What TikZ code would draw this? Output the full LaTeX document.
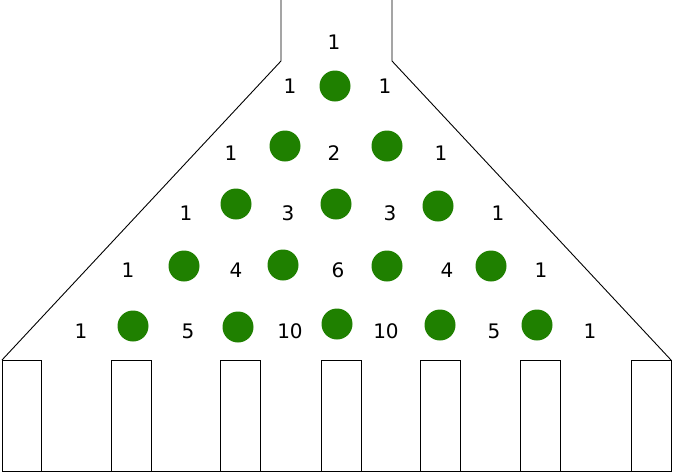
\documentclass[tikz,border=0pt]{standalone}
\usepackage{fontspec}
\setmainfont{DejaVu Sans}
\definecolor{ballgreen}{RGB}{31,128,0}

\begin{document}
\begin{tikzpicture}[x=1pt, y=-1pt,
  ball/.style = {shape = circle, fill = ballgreen, minimum size = 31pt, inner sep = 0pt},
  count/.style = {inner sep = 0pt, font = \fontsize{20}{24}\selectfont},
  wall/.style = {draw = black, line width = 0.9pt}]

\useasboundingbox (0, 0) rectangle (673, 472);

% funnel
\path [wall] (281, 0) -- (281, 61) -- (2, 360);
\path [wall] (392, 0) -- (392, 61) -- (671, 360);

% bins
\path [wall] (2, 471) -- (671, 471);
\path [wall] (2, 471) rectangle (41, 360);
\path [wall] (111, 471) rectangle (151, 360);
\path [wall] (220, 471) rectangle (260, 360);
\path [wall] (321, 471) rectangle (361, 360);
\path [wall] (420, 471) rectangle (460, 360);
\path [wall] (520, 471) rectangle (560, 360);
\path [wall] (631, 471) rectangle (671, 360);

% balls
\node [ball] (b1a) at (335, 86) {};

\node [ball] (b2a) at (285, 146) {};
\node [ball] (b2b) at (387, 146) {};

\node [ball] (b3a) at (236, 204) {};
\node [ball] (b3b) at (336, 204) {};
\node [ball] (b3c) at (438, 206) {};

\node [ball] (b4a) at (184, 266) {};
\node [ball] (b4b) at (283, 265) {};
\node [ball] (b4c) at (387, 266) {};
\node [ball] (b4d) at (491, 266) {};

\node [ball] (b5a) at (133, 326) {};
\node [ball] (b5b) at (238, 327) {};
\node [ball] (b5c) at (337, 324) {};
\node [ball] (b5d) at (440, 325) {};
\node [ball] (b5e) at (537, 325) {};

% counts
\node [count] (n0a) at (334, 42) {1};

\node [count] (n1a) at (290, 86) {1};
\node [count] (n1b) at (385, 86) {1};

\node [count] (n2a) at (231, 153) {1};
\node [count] (n2b) at (334, 153) {2};
\node [count] (n2c) at (441, 153) {1};

\node [count] (n3a) at (186, 213) {1};
\node [count] (n3b) at (288, 213) {3};
\node [count] (n3c) at (390, 213) {3};
\node [count] (n3d) at (498, 213) {1};

\node [count] (n4a) at (128, 270) {1};
\node [count] (n4b) at (236, 270) {4};
\node [count] (n4c) at (338, 270) {6};
\node [count] (n4d) at (447, 270) {4};
\node [count] (n4e) at (541, 270) {1};

\node [count] (n5a) at (81, 331) {1};
\node [count] (n5b) at (188, 331) {5};
\node [count] (n5c) at (290, 331) {10};
\node [count] (n5d) at (386, 331) {10};
\node [count] (n5e) at (494, 331) {5};
\node [count] (n5f) at (590, 331) {1};
\end{tikzpicture}
\end{document}
